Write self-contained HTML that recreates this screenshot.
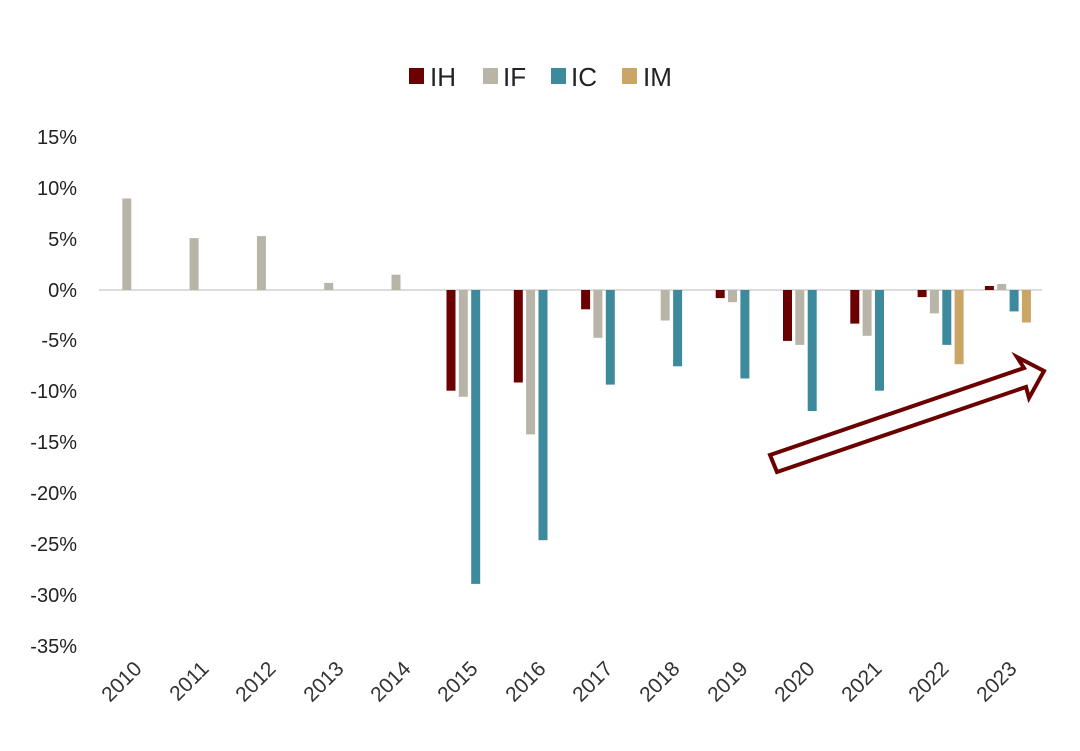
<!DOCTYPE html>
<html><head><meta charset="utf-8"><style>body{margin:0;background:#fff}svg{display:block;font-family:"Liberation Sans",sans-serif}</style></head><body>
<svg width="1080" height="751" viewBox="0 0 1080 751">
<g font-size="26" fill="#222">
<rect x="409" y="68" width="15" height="16" fill="#6b0000"/><text x="430" y="86">IH</text>
<rect x="483" y="68" width="15" height="16" fill="#b8b5a8"/><text x="503" y="86">IF</text>
<rect x="551" y="68" width="15" height="16" fill="#3d8a9c"/><text x="571" y="86">IC</text>
<rect x="622" y="68" width="15" height="16" fill="#c9a566"/><text x="643" y="86">IM</text>
</g>
<g font-size="20" fill="#222" text-anchor="end">
<text x="77" y="144">15%</text><text x="77" y="195">10%</text><text x="77" y="246">5%</text><text x="77" y="297">0%</text>
<text x="77" y="398">-10%</text><text x="77" y="347">-5%</text><text x="77" y="449">-15%</text><text x="77" y="500">-20%</text>
<text x="77" y="551">-25%</text><text x="77" y="602">-30%</text><text x="77" y="653">-35%</text>
</g>
<line x1="99" y1="290" x2="1042" y2="290" stroke="#d0d0d0" stroke-width="1.5"/>
<g fill="#b8b5a8">
<rect x="122.3" y="198.5" width="9" height="91.5"/><rect x="189.6" y="238.1" width="9" height="51.9"/>
<rect x="256.9" y="236.1" width="9" height="53.9"/><rect x="324.2" y="282.9" width="9" height="7.1"/>
<rect x="391.5" y="274.7" width="9" height="15.3"/>
<rect x="458.8" y="290" width="9" height="106.8"/><rect x="526.1" y="290" width="9" height="144.4"/>
<rect x="593.4" y="290" width="9" height="47.8"/><rect x="660.7" y="290" width="9" height="30.5"/>
<rect x="728" y="290" width="9" height="12.2"/><rect x="795.3" y="290" width="9" height="54.9"/>
<rect x="862.6" y="290" width="9" height="45.8"/><rect x="929.9" y="290" width="9" height="23.4"/>
<rect x="997.2" y="284" width="9" height="6"/>
</g>
<g fill="#6b0000">
<rect x="446.5" y="290" width="9" height="100.7"/><rect x="513.8" y="290" width="9" height="92.5"/>
<rect x="581.1" y="290" width="9" height="19.3"/><rect x="715.7" y="290" width="9" height="8.1"/>
<rect x="783" y="290" width="9" height="50.9"/><rect x="850.3" y="290" width="9" height="33.6"/>
<rect x="917.6" y="290" width="9" height="7.1"/><rect x="984.9" y="286" width="9" height="4"/>
</g>
<g fill="#3d8a9c">
<rect x="471.2" y="290" width="9" height="293.9"/><rect x="538.5" y="290" width="9" height="250.2"/>
<rect x="605.8" y="290" width="9" height="94.6"/><rect x="673.1" y="290" width="9" height="76.3"/>
<rect x="740.4" y="290" width="9" height="88.5"/><rect x="807.7" y="290" width="9" height="121"/>
<rect x="875" y="290" width="9" height="100.7"/><rect x="942.3" y="290" width="9" height="54.9"/>
<rect x="1009.6" y="290" width="9" height="21.4"/>
</g>
<g fill="#c9a566">
<rect x="954.6" y="290" width="9" height="74.2"/><rect x="1021.9" y="290" width="9" height="32.5"/>
</g>
<polygon points="770,455 1024,368 1017,357 1044,371 1029,398 1026,387 777,472" fill="none" stroke="#6b0000" stroke-width="4" stroke-linejoin="miter"/>
<g font-size="21" fill="#333" text-anchor="end">
<text transform="translate(143,670) rotate(-45)">2010</text>
<text transform="translate(210,670) rotate(-45)">2011</text>
<text transform="translate(277,670) rotate(-45)">2012</text>
<text transform="translate(345,670) rotate(-45)">2013</text>
<text transform="translate(412,670) rotate(-45)">2014</text>
<text transform="translate(479,670) rotate(-45)">2015</text>
<text transform="translate(547,670) rotate(-45)">2016</text>
<text transform="translate(614,670) rotate(-45)">2017</text>
<text transform="translate(681,670) rotate(-45)">2018</text>
<text transform="translate(749,670) rotate(-45)">2019</text>
<text transform="translate(816,670) rotate(-45)">2020</text>
<text transform="translate(883,670) rotate(-45)">2021</text>
<text transform="translate(950,670) rotate(-45)">2022</text>
<text transform="translate(1018,670) rotate(-45)">2023</text>
</g>
</svg>
</body></html>
